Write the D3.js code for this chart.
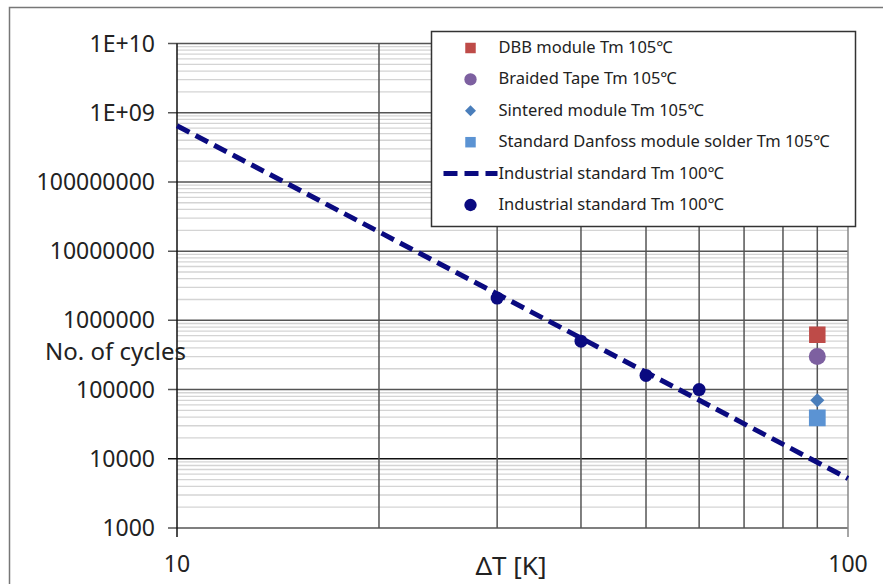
<!DOCTYPE html>
<html>
<head>
<meta charset="utf-8">
<script src="https://cdn.jsdelivr.net/npm/d3@7"></script>
<style>
  body { margin: 0; background: #fff; }
  text { font-family: "Noto Sans", "DejaVu Sans", sans-serif; fill: #222; }
</style>
</head>
<body>
<div id="chart"></div>
<script>
// data
const yTicks = [1e3, 1e4, 1e5, 1e6, 1e7, 1e8, 1e9, 1e10];
const yTickLabels = ["1000", "10000", "100000", "1000000", "10000000", "100000000", "1E+09", "1E+10"];
const xTicks = [10, 100];
const xGrid = [20, 30, 40, 50, 60, 70, 80, 90];

const stdLineDT = [10, 100];
const stdLineN = [6.5e8, 5.2e3];
const stdPointsDT = [30, 40, 50, 60];
const stdPointsN = [2.1e6, 5.0e5, 1.6e5, 1.0e5];

const moduleDT = 90;
const dbbN = 6.2e5;
const braidedN = 3.0e5;
const sinteredN = 7.0e4;
const danfossN = 3.9e4;

const legendLabels = [
  "DBB module Tm 105\u2103",
  "Braided Tape Tm 105\u2103",
  "Sintered module Tm 105\u2103",
  "Standard Danfoss module solder Tm 105\u2103",
  "Industrial standard Tm 100\u2103",
  "Industrial standard Tm 100\u2103"
];

const W = 883, H = 584;
const m = {t: 43.5, r: 35, b: 56, l: 177};

const svg = d3.select('#chart').append('svg')
  .attr('width', W)
  .attr('height', H);

// outer frame
svg.append('rect')
  .attr('x', 9.5).attr('y', 7.5)
  .attr('width', W + 20).attr('height', H + 20)
  .attr('fill', 'none').attr('stroke', '#777').attr('stroke-width', 1.5);

const x = d3.scaleLog().domain([10, 100]).range([m.l, W - m.r]);
const y = d3.scaleLog().domain([1e3, 1e10]).range([H - m.b, m.t]);

const g = svg.append('g');

// minor horizontal grid
const minor = [];
for (let e = 3; e < 10; e++) {
  for (let k = 2; k <= 9; k++) minor.push(k * Math.pow(10, e));
}
g.selectAll('line.minor')
  .data(minor)
  .enter().append('line')
  .attr('class', 'minor')
  .attr('x1', x(10)).attr('x2', x(100))
  .attr('y1', d => y(d)).attr('y2', d => y(d))
  .attr('stroke', '#d4d4d4').attr('stroke-width', 1.3);

// major horizontal grid
g.selectAll('line.major')
  .data(yTicks)
  .enter().append('line')
  .attr('class', 'major')
  .attr('x1', x(10) - 9).attr('x2', x(100))
  .attr('y1', d => y(d)).attr('y2', d => y(d))
  .attr('stroke', d => d === 1e4 ? '#111' : '#555').attr('stroke-width', 1.5);

// vertical grid
g.selectAll('line.vgrid')
  .data(xGrid.concat([100]))
  .enter().append('line')
  .attr('class', 'vgrid')
  .attr('x1', d => x(d)).attr('x2', d => x(d))
  .attr('y1', y(1e10)).attr('y2', d => d === 100 ? y(1e3) + 9 : y(1e3))
  .attr('stroke', d => d === 100 ? '#888' : '#555').attr('stroke-width', 1.5);

// y axis line
g.append('line')
  .attr('x1', x(10)).attr('x2', x(10))
  .attr('y1', y(1e10)).attr('y2', y(1e3) + 9)
  .attr('stroke', '#111').attr('stroke-width', 1.5);

// y tick labels
g.selectAll('text.ylab')
  .data(yTicks)
  .enter().append('text')
  .attr('class', 'ylab')
  .attr('x', 155)
  .attr('y', d => y(d) + 8)
  .attr('text-anchor', 'end')
  .style('font-size', '23px')
  .text((d, i) => yTickLabels[i]);

// x tick labels
g.selectAll('text.xlab')
  .data(xTicks)
  .enter().append('text')
  .attr('class', 'xlab')
  .attr('x', d => x(d))
  .attr('y', 572)
  .attr('text-anchor', 'middle')
  .style('font-size', '23px')
  .text(d => d);

svg.append('text')
  .attr('x', 511).attr('y', 575)
  .attr('text-anchor', 'middle')
  .style('font-size', '26px')
  .text('\u0394T [K]');

svg.append('text')
  .attr('x', 45).attr('y', 360)
  .style('font-size', '24px')
  .text('No. of cycles');

// industrial standard line
const line = d3.line()
  .x((d, i) => x(d))
  .y((d, i) => y(stdLineN[i]));

g.append('path')
  .datum(stdLineDT)
  .attr('d', line)
  .attr('fill', 'none')
  .attr('stroke', '#0a0a80')
  .attr('stroke-width', 5)
  .attr('stroke-dasharray', '14,7');

g.selectAll('circle.std')
  .data(stdPointsDT)
  .enter().append('circle')
  .attr('class', 'std')
  .attr('cx', d => x(d))
  .attr('cy', (d, i) => y(stdPointsN[i]))
  .attr('r', 6.5)
  .attr('fill', '#0a0a80');

// module points at 90 K
const sym = d3.symbol();
const markers = [
  {n: dbbN, type: d3.symbolSquare, size: 272, rot: 0, color: '#be4b48'},
  {n: braidedN, type: d3.symbolCircle, size: 227, rot: 0, color: '#7d60a0'},
  {n: sinteredN, type: d3.symbolSquare, size: 100, rot: 45, color: '#4a7ebb'},
  {n: danfossN, type: d3.symbolSquare, size: 280, rot: 0, color: '#5b93d3'}
];
g.selectAll('path.mod')
  .data(markers)
  .enter().append('path')
  .attr('class', 'mod')
  .attr('transform', d => `translate(${x(moduleDT)},${y(d.n)}) rotate(${d.rot})`)
  .attr('d', d => sym.type(d.type).size(d.size)())
  .attr('fill', d => d.color);

// legend
const lg = svg.append('g').attr('transform', 'translate(431.5,31.5)');
lg.append('rect')
  .attr('width', 424).attr('height', 195)
  .attr('fill', '#fff')
  .attr('stroke', '#333').attr('stroke-width', 1.5);

const legendMarks = [
  {type: d3.symbolSquare, size: 110, rot: 0, color: '#be4b48'},
  {type: d3.symbolCircle, size: 120, rot: 0, color: '#7d60a0'},
  {type: d3.symbolSquare, size: 60, rot: 45, color: '#4a7ebb'},
  {type: d3.symbolSquare, size: 110, rot: 0, color: '#5b93d3'},
  null,
  {type: d3.symbolCircle, size: 120, rot: 0, color: '#0a0a80'}
];

const rows = lg.selectAll('g.row')
  .data(legendLabels)
  .enter().append('g')
  .attr('class', 'row')
  .attr('transform', (d, i) => `translate(0,${15.5 + i * 31.4})`);

rows.append('text')
  .attr('x', 67)
  .attr('y', 6)
  .style('font-size', '16.5px')
  .text(d => d);

rows.each(function(d, i) {
  const r = d3.select(this);
  const mk = legendMarks[i];
  if (mk) {
    r.append('path')
      .attr('transform', `translate(39,1) rotate(${mk.rot})`)
      .attr('d', sym.type(mk.type).size(mk.size)())
      .attr('fill', mk.color);
  } else {
    r.append('line')
      .attr('x1', 12).attr('x2', 66)
      .attr('y1', 1).attr('y2', 1)
      .attr('stroke', '#0a0a80').attr('stroke-width', 5)
      .attr('stroke-dasharray', '14,7');
  }
});
</script>
</body>
</html>
